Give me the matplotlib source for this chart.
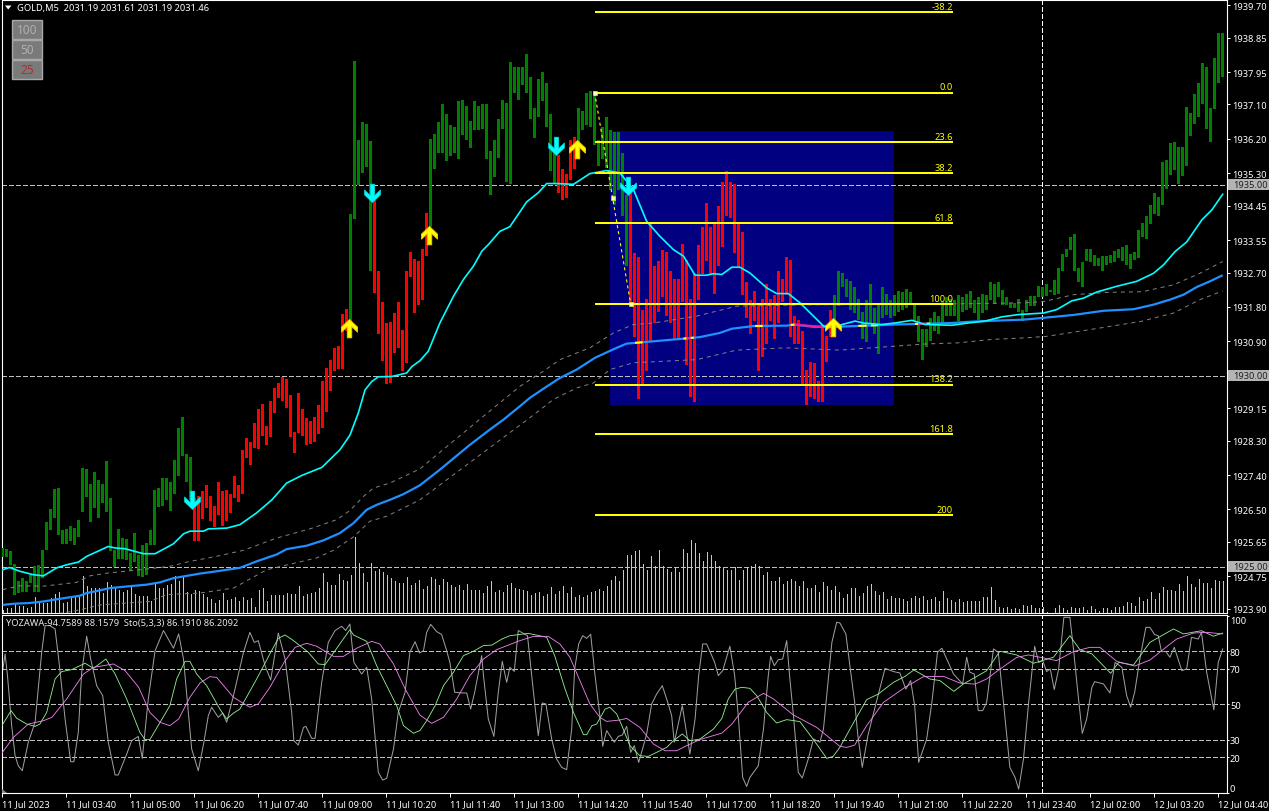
import numpy as np
import matplotlib
matplotlib.use("Agg")
import matplotlib.pyplot as plt
from matplotlib.path import Path
from matplotlib.patches import Rectangle, Polygon

plt.rcParams['lines.scale_dashes'] = False
FONT = 'Noto Sans'
plt.rcParams['font.family'] = [FONT, 'DejaVu Sans']

# ---------------- data ----------------
bar_high = [
 1925.49,1925.46,1925.42,1925.07,1924.63,1924.70,1924.63,1924.79,1925.03,1925.05,
 1925.45,1926.17,1926.52,1927.04,1927.07,1925.97,1925.99,1926.07,1926.02,1926.23,
 1927.59,1927.57,1927.17,1927.49,1927.28,1927.17,1927.77,1926.81,1925.45,1925.99,
 1925.76,1925.73,1925.36,1925.88,1925.31,1925.58,1925.62,1925.97,1927.02,1927.06,
 1927.33,1927.33,1927.21,1927.80,1928.64,1928.93,1927.96,1927.88,1926.80,1926.84,
 1926.99,1927.15,1926.86,1926.60,1927.23,1926.99,1927.02,1926.91,1927.38,1927.15,
 1928.06,1928.38,1928.27,1928.77,1929.14,1929.27,1928.69,1929.35,1929.69,1929.82,
 1929.97,1929.92,1929.50,1928.53,1929.56,1929.14,1928.90,1928.82,1928.93,1929.22,
 1929.87,1930.21,1930.42,1930.73,1930.79,1931.62,1931.75,1934.24,1938.24,1936.17,
 1936.65,1936.59,1936.15,1934.60,1932.74,1931.93,1931.38,1931.41,1931.65,1931.93,
 1931.20,1932.74,1933.24,1933.06,1933.00,1933.32,1934.26,1936.20,1936.34,1936.63,
 1937.10,1936.84,1936.55,1936.50,1937.18,1937.23,1937.05,1936.68,1937.18,1937.05,
 1937.10,1937.10,1935.87,1936.18,1936.73,1937.23,1937.15,1938.20,1938.07,1938.07,
 1938.07,1938.41,1937.83,1937.02,1937.78,1937.96,1937.67,1936.84,1935.92,1935.79,
 1935.40,1935.29,1936.18,1936.26,1937.00,1936.92,1937.39,1937.44,1937.44,1936.16,
 1936.50,1936.76,1936.42,1936.37,1936.37,1935.84,1934.74,1934.79,1933.22,1933.12,
 1931.71,1932.02,1933.96,1932.86,1933.01,1933.28,1933.25,1932.73,1932.54,1932.54,
 1933.46,1933.04,1932.02,1932.70,1933.41,1933.90,1934.51,1933.88,1933.98,1934.45,
 1935.06,1935.37,1935.08,1935.03,1933.96,1933.77,1932.44,1931.97,1932.23,1931.86,
 1932.02,1932.39,1932.02,1932.10,1932.75,1932.54,1933.12,1933.04,1931.55,1931.47,
 1931.18,1930.16,1930.37,1930.32,1929.87,1931.34,1931.05,1931.71,1932.10,1932.75,
 1932.70,1932.54,1932.49,1932.31,1932.02,1931.68,1931.97,1932.39,1931.78,1931.86,
 1932.33,1932.15,1931.97,1932.10,1932.23,1932.20,1932.28,1932.20,1931.86,1931.55,
 1931.21,1931.21,1931.52,1931.68,1931.57,1931.94,1932.05,1932.02,1931.99,1932.12,
 1932.05,1932.15,1932.23,1931.97,1932.07,1932.15,1932.10,1932.44,1932.41,1932.44,
 1932.25,1932.07,1931.91,1931.91,1932.02,1931.73,1931.99,1932.09,1932.09,1932.35,
 1932.32,1932.41,1932.25,1932.51,1932.82,1933.19,1933.32,1933.64,1933.71,1932.82,
 1932.98,1933.32,1933.32,1933.16,1933.09,1933.14,1933.14,1933.16,1933.27,1933.32,
 1933.37,1933.43,1933.19,1933.24,1933.82,1934.00,1934.19,1934.47,1934.79,1934.68,
 1935.60,1935.65,1936.10,1936.12,1935.99,1935.99,1937.04,1936.88,1937.38,1937.67,
 1938.19,1938.09,1937.01,1938.32,1938.98,1938.98]
bar_low = [
 1925.25,1925.25,1925.05,1924.25,1924.31,1924.35,1924.33,1924.57,1924.33,1924.35,
 1924.70,1925.43,1925.95,1926.27,1925.84,1925.60,1925.60,1925.66,1925.58,1925.77,
 1926.42,1926.82,1926.16,1926.54,1926.28,1926.68,1926.44,1925.40,1924.99,1925.20,
 1925.21,1925.18,1924.90,1925.13,1924.76,1924.72,1924.77,1925.56,1925.56,1926.55,
 1926.58,1926.75,1926.47,1926.90,1927.38,1927.89,1927.21,1926.75,1925.66,1925.68,
 1926.26,1926.54,1926.19,1926.05,1926.36,1926.07,1926.20,1926.41,1926.81,1926.70,
 1926.91,1927.85,1927.67,1928.12,1928.09,1928.43,1928.19,1928.40,1929.03,1929.42,
 1929.35,1929.16,1928.40,1927.98,1928.51,1928.43,1928.19,1928.22,1928.27,1928.48,
 1928.64,1929.06,1929.61,1930.13,1930.18,1930.18,1931.18,1931.29,1934.11,1935.00,
 1935.31,1935.47,1932.74,1932.17,1931.10,1930.39,1929.79,1929.81,1930.60,1930.73,
 1930.13,1930.34,1932.59,1931.65,1931.85,1931.99,1933.14,1933.90,1935.42,1935.84,
 1935.82,1935.63,1935.74,1935.82,1935.66,1936.31,1936.16,1935.95,1936.44,1936.44,
 1936.47,1935.68,1934.74,1935.21,1935.71,1936.47,1935.08,1935.03,1937.41,1937.23,
 1937.60,1937.41,1936.71,1936.21,1936.76,1937.18,1936.52,1935.37,1935.05,1934.79,
 1934.61,1934.64,1935.11,1935.42,1935.92,1936.44,1936.55,1936.52,1936.05,1935.48,
 1935.66,1935.45,1934.87,1934.48,1934.87,1934.19,1932.86,1931.91,1931.02,1929.38,
 1929.72,1930.13,1930.89,1931.39,1931.68,1932.07,1931.57,1931.39,1930.97,1930.97,
 1931.94,1930.27,1929.45,1929.32,1931.97,1932.65,1932.99,1932.67,1932.15,1932.88,
 1933.38,1934.17,1934.14,1933.22,1932.83,1932.10,1931.50,1931.08,1931.44,1930.13,
 1930.48,1930.82,1931.42,1930.97,1931.39,1931.92,1932.12,1931.02,1930.82,1930.82,
 1929.72,1929.22,1929.45,1929.38,1929.32,1929.32,1930.37,1931.02,1931.47,1931.82,
 1932.33,1932.07,1931.73,1931.65,1931.47,1930.95,1930.89,1931.36,1931.08,1930.58,
 1931.52,1931.60,1931.50,1931.57,1931.68,1931.73,1931.76,1931.86,1931.43,1930.89,
 1930.42,1930.76,1930.92,1931.18,1931.08,1931.36,1931.57,1931.57,1931.57,1931.44,
 1931.68,1931.71,1931.78,1931.65,1931.47,1931.65,1931.73,1931.97,1931.89,1932.07,
 1931.84,1931.84,1931.78,1931.78,1931.68,1931.42,1931.68,1931.83,1931.83,1932.05,
 1932.05,1932.09,1932.20,1932.12,1932.14,1932.75,1933.11,1933.30,1932.75,1932.46,
 1932.33,1933.01,1932.98,1932.88,1932.88,1932.75,1932.90,1932.96,1932.98,1933.09,
 1933.01,1932.90,1932.80,1933.03,1933.09,1933.64,1933.58,1933.98,1934.24,1934.19,
 1934.47,1934.89,1935.26,1935.39,1935.02,1935.23,1935.49,1936.28,1936.59,1936.78,
 1937.12,1936.46,1936.12,1936.99,1937.67,1937.82]
red_spans = [(48, 86), (93, 106), (139, 143), (157, 207)]

volume = [
 3,5,5,10,7,7,5,6,16,12, 10,10,15,19,21,10,11,15,17,16, 37,27,25,25,25,20,31,28,26,23,
 21,23,28,19,17,17,17,12,29,25, 25,28,29,37,32,36,21,19,23,22, 19,16,14,10,13,20,13,14,16,12,
 16,13,15,6,23,25,12,18,18,18, 18,20,19,19,27,17,19,20,21,25, 40,31,28,28,39,33,32,38,76,50,
 40,31,50,42,44,41,38,35,32,30, 30,36,28,30,33,
 24,27,36,34,28,34,31,28,26,28, 23,29,23,23,23,20,27,32,21,23, 21,28,30,25,24,23,22,18,20,21,
 17,19,26,19,22,27,20,26,16,18, 16,18,21,22,24,22,27,33,37,32, 43,58,58,62,63,49,43,57,47,63,
 47,44,41,46,41,64,60,73,70,60, 52,61,58,52,47,46,43,43,46,33, 43,46,47,49,47,38,41,32,32,36,
 29,32,34,32,27,32,25,25,28,21, 31,27,23,27,21,
 15,19,25,25,17,20,27,29,22,18, 21,14,17,15,15,14,12,15,17,15, 17,13,14,16,12,22,15,13,11,14,
 11,12,12,12,12,16,16,26,13,6, 5,6,4,5,4,8,7,8,5,5, 6,1,0,5,8,5,3,6,5,5,
 6,3,7,4,2,5,5,3,6,6, 7,11,10,7,16,12,14,21,14,20, 26,23,23,22,29,22,37,29,26,34,
 30,30,25,33,32,32]

cyan_x = [0,1.7,4.3,7.7,10.2,13.5,16,18.9,21,26.4,28.1,30.6,35.2,38.1,42.7,45.2,46.8,50.2,51.4,56,59.3,63.5,67.3,71,74.8,79.8,84.3,86.8,88.9,90.6,92.3,93.9,97.3,101,102.3,104.3,
 106.4,109.3,112.7,115.2,117.7,119.8,121.4,124.3,126.8,131,133.9,136,138.5,142.7,146.8,151,154.3,157.7,161,164.3,167.7,170.2,173.1,176,177.7,179.8,182.3,184.3,186.8,191,193.5,196.4,199.3,205.2,
 207.3,210.6,213.1,215.2,217.3,219.8,223.1,227.3,230.6,237.3,241.4,245.6,249.8,253.9,260.2,263.5,267.3,270.2,273.5,278.5,283.5,287.7,290.2,293.1,296,299.8,302.3,305]
cyan_y = [1924.92,1924.98,1924.88,1924.79,1924.76,1924.97,1925.05,1925.12,1925.27,1925.53,1925.49,1925.47,1925.34,1925.34,1925.60,1925.86,1925.93,1925.93,1925.99,1926.01,1926.10,1926.41,1926.75,1927.19,1927.39,1927.60,1928.06,1928.44,1929.02,1929.63,1929.85,1929.97,1929.98,1930.07,1930.24,1930.39,
 1930.64,1931.38,1932.08,1932.52,1932.87,1933.26,1933.43,1933.78,1933.90,1934.55,1934.79,1935.03,1935.03,1935.01,1935.29,1935.37,1935.31,1934.87,1934.04,1933.65,1933.30,1933.13,1932.63,1932.63,1932.67,1932.65,1932.84,1932.84,1932.69,1932.30,1932.15,1932.15,1931.91,1931.30,
 1931.27,1931.36,1931.43,1931.38,1931.36,1931.34,1931.38,1931.45,1931.34,1931.32,1931.38,1931.43,1931.54,1931.60,1931.64,1931.73,1931.96,1932.03,1932.19,1932.34,1932.47,1932.68,1932.90,1933.25,1933.50,1934.08,1934.34,1934.75]

blue_x = [0,2.7,6.8,10.2,13.1,19.3,21,24.3,26.8,31.8,36,39.3,42.7,49.3,53.5,59.3,63.5,68.5,71,76,80.2,84.3,87.7,91,93.5,96.8,100.2,104.3,
 109.3,116.8,121.8,125.2,129.3,131.8,135.2,139.3,143.5,148.1,153.5,156,162.7,170.2,174.3,179.3,182.3,187.7,196,197.7,202.7,208.5,
 223.1,230.6,237.3,241.4,245.6,255.6,267.7,275.2,282.7,287.7,291.8,295.2,298.5,301.8,305]
blue_y = [1924.00,1924.03,1924.05,1924.09,1924.14,1924.24,1924.31,1924.38,1924.44,1924.49,1924.53,1924.59,1924.70,1924.82,1924.88,1924.97,1925.14,1925.32,1925.46,1925.55,1925.69,1925.88,1926.14,1926.49,1926.62,1926.75,1926.90,1927.13,
 1927.54,1928.19,1928.59,1928.85,1929.20,1929.42,1929.66,1929.94,1930.16,1930.47,1930.73,1930.84,1930.90,1930.97,1931.01,1931.12,1931.23,1931.30,1931.31,1931.34,1931.28,1931.28,
 1931.34,1931.36,1931.38,1931.41,1931.43,1931.47,1931.59,1931.70,1931.74,1931.86,1931.99,1932.12,1932.32,1932.47,1932.63]
blue_flags = [(158.1,160,'#FFFF00'),(170.2,171,'#FFFF00'),(171,172,'#FF1493'),(172,172.8,'#FFFF00'),
              (188.1,190,'#FFFF00'),(197,198,'#FFFF00'),(198,205,'#FF1493'),(213.9,216,'#FFFF00'),
              (217.1,218.8,'#FFFF00'),(228.1,228.9,'#FFFF00'),(228.9,231,'#FF1493'),(231,231.9,'#FFFF00')]

upper_x = [0,4.3,10.2,18.5,21.8,26,36,41.8,46,54.3,60.2,68.5,76.8,83.5,86.8,90.2,92.7,96.8,104.3,
 120.2,129.3,135.2,139.3,146.8,152.7,157.7,162.7,173.5,183.5,202.7,209.3,238.1,255.6,260.2,267.7,276,285,292.7,299.3,305]
upper_y = [1924.40,1924.50,1924.49,1924.59,1924.76,1924.83,1924.94,1925.01,1925.12,1925.29,1925.43,1925.75,1925.99,1926.23,1926.47,1926.84,1927.06,1927.19,1927.56,
 1928.94,1929.72,1930.12,1930.42,1930.73,1931.12,1931.34,1931.38,1931.56,1931.82,1931.86,1931.86,1931.88,1931.91,1931.94,1932.12,1932.18,1932.20,1932.38,1932.68,1932.99]
lower_x = [0,15.2,19.3,24.3,36.8,41,49.3,57.7,66,78.5,82.7,87.7,91.8,96,104.3,
 131.8,137.7,143.5,147.7,151.8,157.7,173.5,183.5,196,209.3,230.6,238.9,247.3,255.6,261,270.2,284.5,292.7,299.3,305]
lower_y = [1923.55,1923.79,1923.87,1924.00,1924.09,1924.27,1924.31,1924.44,1924.92,1925.23,1925.43,1925.78,1926.19,1926.32,1926.75,
 1928.90,1929.38,1929.68,1929.81,1930.16,1930.34,1930.42,1930.67,1930.73,1930.67,1930.83,1930.86,1930.95,1930.99,1931.03,1931.18,1931.42,1931.64,1931.99,1932.22]

arrow_down_x = [47.3, 92.3, 138.3, 156.4]
arrow_down_y = [1926.52, 1934.56, 1935.77, 1934.74]
arrow_up_x = [86.6, 106.6, 143.55, 207.5]
arrow_up_y = [1931.49, 1933.93, 1936.18, 1931.51]

fib_start_bar, fib_end_bar = 148, 237.6
fib_anchor_bar = 157
fib_top, fib_bottom = 1937.41, 1931.88
fib_levels = [-38.2, 0.0, 23.6, 38.2, 61.8, 100.0, 138.2, 161.8, 200]
fib_labels = ['-38.2', '0.0', '23.6', '38.2', '61.8', '100.0', '138.2', '161.8', '200']

rect_bars = (151.8, 222.8)
rect_prices = (1929.24, 1936.41)
round_levels = [1935.0, 1930.0, 1925.0]
vline_bar = 259.8

price_ticks = [1939.70,1938.85,1937.95,1937.10,1936.20,1935.30,1934.45,1933.55,1932.70,1931.80,1930.90,
               1929.15,1928.30,1927.40,1926.50,1925.65,1924.75,1923.90]
time_labels = ['11 Jul 2023','11 Jul 03:40','11 Jul 05:00','11 Jul 06:20','11 Jul 07:40','11 Jul 09:00',
               '11 Jul 10:20','11 Jul 11:40','11 Jul 13:00','11 Jul 14:20','11 Jul 15:40','11 Jul 17:00',
               '11 Jul 18:20','11 Jul 19:40','11 Jul 21:00','11 Jul 22:20','11 Jul 23:40','12 Jul 02:00',
               '12 Jul 03:20','12 Jul 04:40']
time_tick_step = 16
sto_levels = [80, 70, 50, 30, 20]
sto_ticks = [100, 80, 70, 50, 30, 20, 0]

grey_x = [-0.25,0.6,1.2,2.25,3.1,3.9,4.9,6.4,8.1,9.75,10.6,11.8,13.1,14.2,15.6,17,17.8,18.9,19.75,21,22,23.5,25,26.4,28.1,28.9,31,32.25,33.9,34.9,36.4,38.1,40.2,42.7,44,45.2,47.25,48.9,50.3,51.4,52.25,53.9,55,56,57.7,60.2,61.8,62.9,63.9,65.6,67,68.9,70.6,72.25,72.8,73.9,75.2,75.8,77.25,78.1,79.75,81.4,83.1,84.75,85.75,86.8,87.8,89.75,91,92.25,93.9,95,96,97.7,98.9,100.6,101.8,103.1,104.2,
 105.2,106,107,108.5,109.75,111,111.8,113,114.75,116,117,118,119.75,120.2,121.4,122.8,123.9,124.9,126,126.8,127.9,128.9,131.2,132.7,133.9,134.9,135.8,137.25,138.5,139.75,141,142.25,143,144,145,146,147,148,149.3,150,151,152.9,153.9,154.9,156,157,157.9,159,160.2,161,162.25,163.5,164.9,166.4,167.25,167.9,169.9,171.8,173.1,174,175,176,178,178.9,180,181.8,183,183.9,185,186,186.8,188.9,190.2,191.4,192,192.9,193.9,195,196,196.8,197.7,198.9,199.9,201.4,202.7,204.3,205.2,206.4,207.3,208.5,
 209.3,210.8,211.8,213,213.8,214.9,216.3,218.4,220.6,222.7,224.3,225.8,227,228,229,231,232.3,233.7,234.8,236,237.7,240,241,241.8,242.9,243.9,245,246,247.7,248.9,250.2,251.8,253.1,254,255.2,256.5,258,259,260,261,261.9,262.9,264,265.3,266.8,267.7,268.7,269.9,271,272.3,273,275.2,276.8,278.1,279.8,281,282,283,284.3,285.8,286.8,288,288.9,289.7,290.8,291.8,292.9,294.8,296,297.2,298.9,299.7,301,302.8,303.9,305]
grey_y = [65.2,78.5,66.2,37.9,20.9,15.2,12.4,28.5,39.8,79.4,94.5,94.5,92.6,71.8,41.7,17.5,17.5,34.1,68.1,88.5,75.6,60.5,54.9,28.5,10,10,21.8,29.4,31.8,19.4,53,80.3,91.7,81.7,89.8,75.6,24.7,12.4,28.5,43.5,48.3,42.6,45,39.8,54.9,79.4,90.7,85,86,71.8,63.7,90.3,75.6,45.4,29.4,26.9,36.9,37.5,30.7,30.7,62.4,85,91.7,94.1,91.7,95.4,73.7,67.1,70.9,53,11.5,7.1,8.1,24.7,45.4,56.8,79.4,85.4,79,
 80.3,90.7,95.2,91.1,89.4,80.3,73.7,56.8,56.4,56.4,47.3,56.8,77.5,66.2,41.7,31.8,56.8,74.3,62.4,70.9,68.6,91.7,88.8,56.8,32.2,50.7,50.2,30.3,19,14.3,13,36,70,84.1,88.8,87.3,89.6,68.1,43.5,26.2,35.1,28.5,31.8,32.6,37.5,22.8,26.6,17.1,26.6,33.2,50.2,55.8,60.5,50.2,43.5,28.5,49.2,21.8,41.7,66.2,84.1,84.1,73.7,66.2,69,82.8,66.2,43.5,8.6,3.5,8.6,15.2,36,66.2,77.1,71.8,75.2,75.6,86,64.3,43.5,11.5,8.3,19,30.3,28.5,36,64.3,85,96.4,
 96,89.8,71.8,51.1,32.2,14.3,32.2,51.1,70.3,68.5,67.7,58.6,63.4,49.2,17.1,30.3,51.1,79.4,81.7,75.6,67.1,61.5,76.6,68.1,67.1,46.4,46.4,51.1,81.3,79.4,51.1,14.3,8.6,2,19,51.1,82.8,73.7,74.7,68.5,70,58.3,70,99.2,99.2,81.3,58.6,33.5,41.7,59.6,62.8,61.5,56.4,73.7,70.9,54.9,48.3,56.8,75.6,93.5,93.5,89.4,88.8,79.8,79.8,76.6,82.2,69,70,87.9,86.9,90.7,68.1,46.8,73.7,81.3]

green_x = [-0.2,2.1,3.5,6,8.1,9.3,11,13.1,14.75,17.25,20.6,22.7,25.8,28.1,31,34.3,35.6,36.8,41.8,43.5,45.6,46.8,48.5,51,54.3,56,57.7,59.3,63.5,66.8,68.9,70.6,72.7,76.4,78.9,80.6,83.1,86.8,87.7,91,93.5,96.4,98.5,100.2,102.7,104.3,
 106,108.1,110.2,112.7,115.2,117.7,120.2,122.3,124.8,126.8,131.4,136,138,140.6,142.7,145.2,146,147.3,148.5,150.6,151.8,153.5,154.8,156.8,159.3,161.4,164.3,166,167.7,169.9,171.8,174.3,177.7,179.8,181.4,183.1,184.8,186.8,188.5,191,193.5,196,199.3,202.7,206,207.6,209.3,
 212.3,216,218.9,222.7,225.6,227.8,231.8,234.3,237.8,240.2,243.1,246,249.3,253.5,257.7,262.7,266.8,269.3,272.3,277,279,282.7,286.8,292.7,295.2,299.7,302.7,305]
green_y = [37.9,46.4,42.1,38.8,37.5,38.8,45.4,64.3,68.5,69.6,73.2,70.3,75.6,67.1,53,34.1,30,30,49.2,64.3,74.3,74.3,67.1,60.5,47.3,41.7,45,47.3,64.3,78.5,87.3,89.2,86,79.4,72.8,72.4,80.3,92.2,89.2,85.6,71.8,58.7,49.2,37.9,33.6,35.1,
 40.7,49.2,60.5,68.1,77.5,80,83.2,83.5,86.9,88.8,90.1,87.9,77.5,58.6,45.4,32.8,32.8,37.9,38.8,47.3,48.3,44.5,37.9,26.6,20.9,20.5,23.7,25.6,29.4,33.2,29.4,30.3,36,42,53,58.6,59.6,59,54.9,45.4,39.4,41.3,40.2,30,19.4,20.5,25.6,
 37.9,52.6,55.8,62.4,65.8,69.4,64.3,63.4,57.3,61.5,65.2,69,80,77.9,73.2,76.6,88.8,80.9,78.5,67.5,73.7,72.2,85,92.6,89.8,91.6,88.5,90.3]

magenta_x = [-0.2,2.7,6.4,10.2,12.3,16,20.2,22.7,27.7,30.6,34,36.8,39.3,41.8,44,46.8,49.3,51.8,53.5,57.7,61.8,63.9,66.8,70.6,73.1,76,78.5,82.7,85.2,88.5,92.25,94.3,97.7,100.6,104.3,
 107.25,110.2,113.5,116.8,120.2,123.5,129.3,132.7,136.4,139.3,141.8,144.3,146.8,149.3,151,154.3,156,159.3,162.7,165.6,168.5,171,174.3,179.8,182.3,186.4,190.2,192.7,197.7,203.5,209.3,
 211,213,216,220.2,225.6,230.2,235.2,239.3,243.1,246,249.3,253.5,256.5,259.3,263.5,267.7,271.8,274.3,278.5,283,286.8,291.3,293.5,297.7,301,305]
magenta_y = [22.4,31.3,38.8,40.7,42.6,53,67.1,70.9,72.8,69,59.6,45.4,39.8,37.9,41.7,53.9,62,65.6,65.2,53.9,48.3,50.2,59.6,74.7,82.2,84.5,82.8,77.1,77.1,81.7,85.6,84.1,72.8,58.7,43.9,
 39.2,42.6,53,66.2,75.6,80.9,86,88.4,88.4,84.1,76.6,63.4,50.2,42.6,40.3,41.1,42,36.9,27.5,23.7,23.7,26.6,30,33.7,38.8,51.1,56.2,53,43.9,36.9,26.2,
 25.6,26.9,37.9,51.1,59.6,65.6,65.8,62,61.4,64.3,69.9,76.5,77.9,76.6,74.7,79.8,82.2,82.2,74.3,71.6,75,83.1,86.9,90.3,90.7,89.8]

# ---------------- layout ----------------
W, H = 1269, 812
fig = plt.figure(figsize=(W/100, H/100), dpi=100, facecolor='black')
def rect_px(l, t, r, b):
    return [l/W, 1-b/H, (r-l)/W, (b-t)/H]

WHITE = '#FFFFFF'
GRID = '#C0C0C0'
DASH = (0, (2.9, 1.45))
FS = 6.7

ax_vol = fig.add_axes(rect_px(2, 1, 1227, 614), facecolor='black', zorder=1)
ax = fig.add_axes(rect_px(2, 1, 1227, 614), facecolor='none', zorder=2)
ax_sto = fig.add_axes(rect_px(2, 616, 1227, 794), facecolor='black', zorder=2)

xlim = ((2-2.67)/4, (1227-2.67)/4)
for a in (ax, ax_vol, ax_sto):
    a.set_xlim(*xlim)
ax.set_ylim(1930+(376.7-614)/38.2, 1930+(376.7-1)/38.2)
ax_vol.set_ylim(0, 613-2)
ax_sto.set_ylim(-0.2, 100.5)

# volume
idx = np.arange(len(bar_high))
ax_vol.vlines(idx[:len(volume)], 0, volume, color='#90EE90', lw=0.72, antialiased=False)
ax_vol.axis('off')

# rectangle + round levels
ax.add_patch(Rectangle((rect_bars[0], rect_prices[0]), rect_bars[1]-rect_bars[0],
                       rect_prices[1]-rect_prices[0], fc='#000080', ec='none', zorder=1))
for lv in round_levels:
    ax.axhline(lv, color=GRID, lw=0.72, ls=DASH, zorder=2, antialiased=False)
ax.axvline(vline_bar, color=WHITE, lw=0.72, ls=DASH, zorder=2, antialiased=False)
ax_sto.axvline(vline_bar, color=WHITE, lw=0.72, ls=DASH, zorder=1, antialiased=False)

# bars
bar_high = np.array(bar_high); bar_low = np.array(bar_low)
colors = np.array(['#008000'] * len(idx), dtype=object)
for a0, a1 in red_spans:
    colors[a0:a1+1] = '#FF0000'
ax.bar(idx, bar_high-bar_low, bottom=bar_low, width=0.75, color=list(colors), linewidth=0,
       antialiased=False, zorder=3)

# moving averages
ax.plot(upper_x, upper_y, color='#808080', lw=0.72, ls=(0, (2.9, 2.9)), zorder=4)
ax.plot(lower_x, lower_y, color='#808080', lw=0.72, ls=(0, (2.9, 2.9)), zorder=4)
ax.plot(blue_x, blue_y, color='#1E90FF', lw=1.6, zorder=5, solid_capstyle='butt')
for f0, f1, c in blue_flags:
    ax.plot([f0, f1], np.interp([f0, f1], blue_x, blue_y), color=c, lw=1.5, zorder=5.5, solid_capstyle='butt')
ax.plot(cyan_x, cyan_y, color='#00FFFF', lw=1.2, zorder=6)

# fibonacci
fib_range = fib_bottom - fib_top
for lv, lab in zip(fib_levels, fib_labels):
    p = fib_top + fib_range * lv / 100.0
    ax.plot([fib_start_bar, fib_end_bar], [p, p], color='#FFFF00', lw=1.45, zorder=7, solid_capstyle='butt')
    ax.text(fib_end_bar, p+0.03, lab, color='#FFFF00', fontsize=FS, ha='right', va='bottom', zorder=7)
ax.plot([fib_start_bar, fib_anchor_bar], [fib_top, fib_bottom], color='#FFFF00', lw=0.8,
        ls=(0, (2.2, 2.2)), zorder=7)
ax.plot([fib_start_bar, (fib_start_bar+fib_anchor_bar)/2, fib_anchor_bar],
        [fib_top, (fib_top+fib_bottom)/2, fib_bottom], ls='none', marker='s', ms=2.6,
        color='#FFFFC8', mec='#FFFF00', mew=0.4, zorder=7.5)

# arrows (anchored on their tip)
arrow_pts = [(0, 0), (8, 7.6), (8, 12.6), (2.2, 7), (2.2, 18.3), (-2.2, 18.3), (-2.2, 7), (-8, 12.6), (-8, 7.6), (0, 0)]
codes = [Path.MOVETO] + [Path.LINETO]*8 + [Path.CLOSEPOLY]
down = Path(arrow_pts, codes)
up = Path([(x, -y) for x, y in arrow_pts], codes)
ms = 18.3*2*0.72
ax.plot(arrow_down_x, arrow_down_y, ls='none', marker=down, ms=ms, mfc='#00FFFF', mec='#00D8D8', mew=0.5, zorder=8)
ax.plot(arrow_up_x, arrow_up_y, ls='none', marker=up, ms=ms, mfc='#FFFF00', mec='#FFC000', mew=0.7, zorder=8)

# stochastic pane
for lv in sto_levels:
    ax_sto.axhline(lv, color=GRID, lw=0.72, ls=DASH, zorder=1, antialiased=False)
ax_sto.plot(grey_x, grey_y, color='#A0A0A0', lw=0.72, zorder=2)
ax_sto.plot(green_x, green_y, color='#90EE90', lw=0.62, zorder=3)
ax_sto.plot(magenta_x, magenta_y, color='#EE82EE', lw=0.62, zorder=4)

# axes styling
for a in (ax, ax_sto):
    for s in a.spines.values():
        s.set_color(WHITE); s.set_linewidth(0.8)
ax.set_xticks([])
ax.yaxis.tick_right()
ax.set_yticks(price_ticks)
ax.set_yticklabels(['%.2f' % p for p in price_ticks], color=WHITE, fontsize=FS)
ax.tick_params(axis='y', colors=WHITE, length=2.2, width=0.72, pad=1.6)

ax_sto.yaxis.tick_right()
ax_sto.set_yticks(sto_ticks)
ax_sto.set_yticklabels([str(t) for t in sto_ticks], color=WHITE, fontsize=FS)
ax_sto.tick_params(axis='y', colors=WHITE, length=1.5, width=0.72, pad=0.6)
for lbl, t in zip(ax_sto.get_yticklabels(), sto_ticks):
    if t == 100: lbl.set_va('top')
    elif t == 0: lbl.set_va('bottom')
ax_sto.set_xticks(np.arange(len(time_labels)) * time_tick_step - 0.17)
ax_sto.set_xticklabels(time_labels, color=WHITE, fontsize=FS, ha='left')
ax_sto.tick_params(axis='x', colors=WHITE, length=3, width=0.72, pad=1.5)

# highlighted round-level labels
for lv in round_levels:
    ax.add_patch(Rectangle((1.0009, lv-0.15), 0.0335, 0.30, transform=ax.get_yaxis_transform(),
                           clip_on=False, fc='#B4B4B4', ec='none', zorder=20))
    ax.text(1.0049, lv, '%.2f' % lv, transform=ax.get_yaxis_transform(), color='#202020',
            fontsize=FS, va='center', ha='left', clip_on=False, zorder=21)

# header and window furniture (figure pixel placement)
def T(x, y, s, **k):
    fig.text(x/W, 1-y/H, s, va='center', ha='left', fontsize=FS, zorder=30, **k)
T(17, 8.5, 'GOLD,M5  2031.19 2031.61 2031.19 2031.46', color=WHITE)
T(6, 624, 'YOZAWA-94.7589 88.1579  Sto(5,3,3) 86.1910 86.2092', color='#E0E8F0')
fig.add_artist(Polygon([(5/W, 1-6.5/H), (11.5/W, 1-6.5/H), (8.2/W, 1-10.5/H)], closed=True,
                       fc=WHITE, ec='none', transform=fig.transFigure, zorder=30))
fig.add_artist(Polygon([(2.5/W, 1-790/H), (2.5/W, 1-794/H), (7/W, 1-794/H)], closed=True,
                       fc='#909090', ec='none', transform=fig.transFigure, zorder=30))
for top, bot, lab, col in [(21, 40, '100', '#B0B0B0'), (41, 60, '50', '#B0B0B0'), (61, 80, '25', '#A83232')]:
    fig.add_artist(Rectangle((12/W, 1-bot/H), 30/W, (bot-top)/H, fc='#7A7A7A', ec='#A8A8A8', lw=1.0,
                             transform=fig.transFigure, zorder=29))
    fig.text(27/W, 1-(top+bot)/2/H, lab, color=col, fontsize=8.5, ha='center', va='center', zorder=30)

fig.savefig('out.png', dpi=100, facecolor='black')
